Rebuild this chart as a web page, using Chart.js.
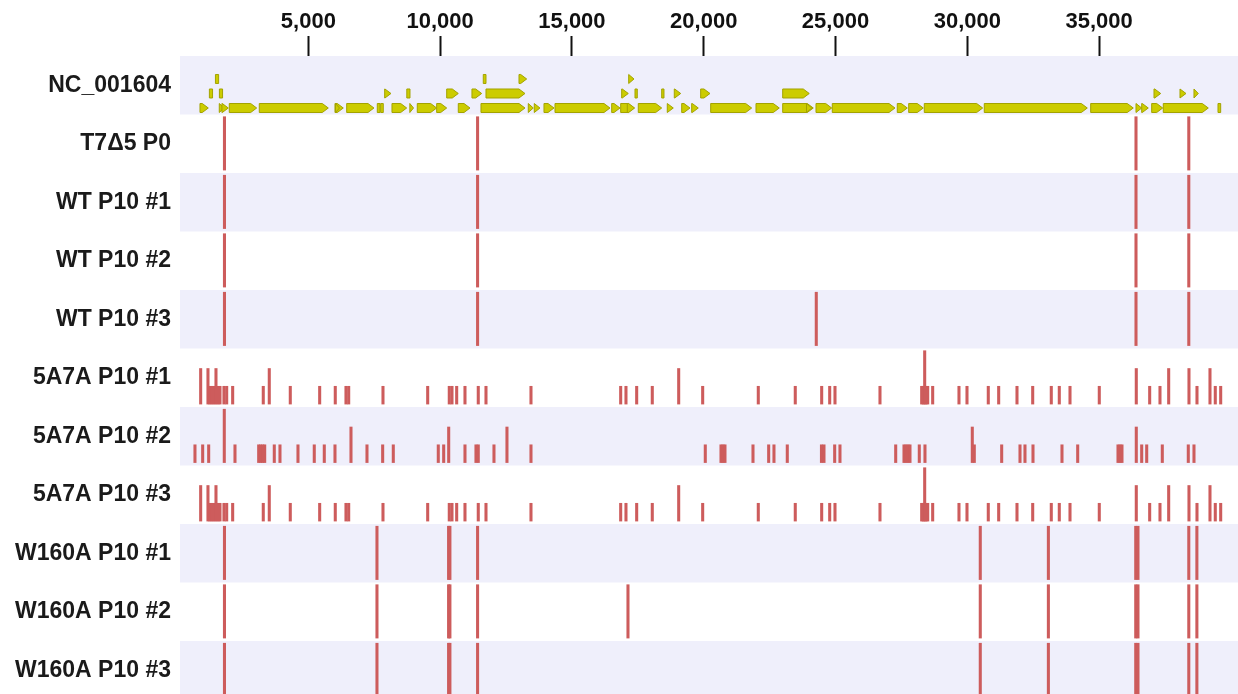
<!DOCTYPE html>
<html><head><meta charset="utf-8">
<script src="https://cdn.jsdelivr.net/npm/chart.js@4.4.1/dist/chart.umd.min.js"></script>
<style>html,body{margin:0;padding:0;background:#fff;overflow:hidden;}canvas{display:block;}</style>
</head><body>
<canvas id="c" width="1238" height="694"></canvas>
<script>
// ---------- data ----------
const rowLabels = ['NC_001604','T7\u03945 P0','WT P10 #1','WT P10 #2','WT P10 #3',
  '5A7A P10 #1','5A7A P10 #2','5A7A P10 #3','W160A P10 #1','W160A P10 #2','W160A P10 #3'];
const xTicks = [5000,10000,15000,20000,25000,30000,35000];
const genomeView = [130, 40270];

// gene annotation lanes: [start, end] in bp
const genesLaneLow = [[888,1203],[1620,1800],[1720,1962],[2000,3039],[3138,5756],[6010,6325],[6030,6180],
  [6454,7489],[7615,7717],[7744,7842],[8172,8730],[8850,8990],[9132,9868],[9868,10248],[10688,11132],
  [11549,13218],[13344,13533],[13571,13787],[13939,14319],[14357,16443],[16508,16823],[16849,17354],
  [17100,17380],[17517,18405],[18617,18845],[19164,19478],[19543,19793],[20264,21819],[21983,22866],
  [22996,24156],[23900,24100],[24259,24855],[24877,27256],[27343,27723],[27776,28330],[28368,30583],
  [30644,34552],[34681,36297],[36400,36616],[36616,36866],[36995,37413],[37435,39143],[39511,39613]];
const genesLaneMid = [[1245,1365],[1625,1745],[7895,8134],[8735,8855],[10248,10688],[11207,11575],
  [11739,13218],[16887,17138],[17392,17479],[18405,18492],[18883,19126],[19884,20237],[22996,24004],
  [37083,37337],[38069,38297],[38600,38763]];
const genesLaneHigh = [[1475,1595],[11636,11739],[12991,13283],[17153,17354]];

// mutations: [position bp, level 1..3]
const mutT7d5P0 = [[1817,3],[11420,3],[36400,3],[38403,3]];
const mutWT1 = [[1817,3],[11420,3],[36400,3],[38403,3]];
const mutWT2 = [[1817,3],[11420,3],[36400,3],[38403,3]];
const mutWT3 = [[1817,3],[11420,3],[24270,3],[36400,3],[38403,3]];
const mut5A7A1 = [[914,2],[1191,2],[1267,1],[1343,1],[1419,1],[1495,2],[1571,1],[1647,1],[1798,1],[1901,1],
  [2128,1],[3289,1],[3517,2],[4314,1],[5429,1],[6021,1],[6427,1],[6530,1],[7831,1],[9527,1],[10346,1],
  [10449,1],[10627,1],[10942,1],[11446,1],[11739,1],[13446,1],[16849,1],[17050,1],[17456,1],[18048,1],
  [19050,2],[19960,1],[22070,1],[23473,1],[24475,1],[24779,1],[24980,1],[26687,1],[28269,1],[28330,1],
  [28383,3],[28432,1],[28497,1],[28686,1],[29684,1],[29988,1],[30796,1],[31190,1],[31885,1],[32481,1],
  [33186,1],[33490,1],[33896,1],[35007,1],[36411,2],[36919,1],[37310,1],[37640,2],[38410,2],[38714,1],
  [39207,2],[39408,1],[39613,1]];
const mut5A7A2 = [[698,1],[990,1],[1218,1],[1810,3],[2216,1],[3115,1],[3191,1],[3267,1],[3343,1],[3707,1],
  [3923,1],[4606,1],[5224,1],[5604,1],[6010,1],[6617,2],[7224,1],[7819,1],[8222,1],[9929,1],[10134,1],
  [10324,2],[10942,1],[11359,1],[11446,1],[12042,1],[12535,2],[13446,1],[20059,1],[20655,1],[20730,1],
  [20806,1],[21869,1],[22464,1],[22665,1],[23170,1],[24467,1],[24562,1],[24968,1],[25169,1],[27283,1],
  [27598,1],[27674,1],[27749,1],[27825,1],[28178,1],[28394,1],[30189,2],[30265,1],[31304,1],[31999,1],
  [32188,1],[32492,1],[33592,1],[34188,1],[35717,1],[35793,1],[35868,1],[36411,2],[36616,1],[36806,1],
  [37398,1],[38384,1],[38600,1]];
const mut5A7A3 = [[914,2],[1191,2],[1267,1],[1343,1],[1419,1],[1495,2],[1571,1],[1647,1],[1798,1],[1901,1],
  [2128,1],[3289,1],[3517,2],[4314,1],[5429,1],[6021,1],[6427,1],[6530,1],[7831,1],[9527,1],[10346,1],
  [10449,1],[10627,1],[10942,1],[11446,1],[11739,1],[13446,1],[16849,1],[17050,1],[17456,1],[18048,1],
  [19050,2],[19960,1],[22070,1],[23473,1],[24475,1],[24779,1],[24980,1],[26687,1],[28269,1],[28330,1],
  [28383,3],[28432,1],[28497,1],[28686,1],[29684,1],[29988,1],[30796,1],[31190,1],[31885,1],[32481,1],
  [33186,1],[33490,1],[33896,1],[35007,1],[36411,2],[36919,1],[37310,1],[37640,2],[38410,2],[38714,1],
  [39207,2],[39408,1],[39613,1]];
const mutW160A1 = [[1817,3],[7603,3],[10320,3],[10370,3],[11420,3],[30492,3],[33076,3],[36390,3],[36475,3],[38403,3],[38710,3]];
const mutW160A2 = [[1817,3],[7603,3],[10320,3],[10370,3],[11420,3],[17126,3],[30492,3],[33076,3],[36390,3],[36475,3],[38403,3],[38710,3]];
const mutW160A3 = [[1817,3],[7603,3],[10320,3],[10370,3],[11420,3],[30492,3],[33076,3],[36390,3],[36475,3],[38403,3],[38710,3]];

// ---------- build ----------
const mutRows = [mutT7d5P0, mutWT1, mutWT2, mutWT3, mut5A7A1, mut5A7A2, mut5A7A3, mutW160A1, mutW160A2, mutW160A3];
const BASE_OFF = 0.45, UNIT = 0.304;
const laneY = [0.389, 0.141, -0.107];
const geneData = [genesLaneLow, genesLaneMid, genesLaneHigh].flatMap((lane, k) =>
  lane.map(([s, e]) => ({ y: laneY[k], x: [s, e] })));

const datasets = [{
  type: 'bar', label: 'genes', indexAxis: 'y', grouped: false, barThickness: 9,
  data: geneData, backgroundColor: '#cccc00', borderColor: '#a3a300', borderWidth: 1
}].concat(mutRows.map((arr, i) => ({
  type: 'bar', label: rowLabels[i + 1], grouped: false, barThickness: 2.4,
  backgroundColor: '#cd5c5c', borderWidth: 0,
  data: arr.map(([p, l]) => ({ x: p, y: [i + 1 + BASE_OFF, i + 1 + BASE_OFF - l * UNIT] }))
})));

const bandsPlugin = {
  id: 'bands',
  beforeDatasetsDraw(chart) {
    const { ctx, chartArea, scales: { y } } = chart;
    ctx.save();
    ctx.beginPath(); ctx.rect(chartArea.left, chartArea.top, chartArea.right - chartArea.left, chartArea.bottom - chartArea.top); ctx.clip();
    ctx.fillStyle = '#efeffb';
    for (let r = 0; r < rowLabels.length; r += 2) {
      const t = y.getPixelForValue(r - 0.5), b = y.getPixelForValue(r + 0.5);
      ctx.fillRect(chartArea.left, t, chartArea.right - chartArea.left, b - t);
    }
    ctx.restore();
  }
};

const arrowPlugin = {
  id: 'arrows',
  beforeDatasetDraw(chart, args) {
    if (args.index !== 0) return;
    const { ctx, chartArea } = chart;
    const ds = chart.data.datasets[0];
    ctx.save();
    ctx.beginPath(); ctx.rect(chartArea.left, chartArea.top, chartArea.right - chartArea.left, chartArea.bottom - chartArea.top); ctx.clip();
    ctx.fillStyle = ds.backgroundColor; ctx.strokeStyle = ds.borderColor; ctx.lineWidth = 1;
    for (const el of args.meta.data) {
      const { x, base, y, height } = el.getProps(['x', 'base', 'y', 'height'], true);
      const x0 = Math.min(x, base), x1 = Math.max(x, base), w = x1 - x0, h2 = height / 2;
      ctx.beginPath();
      if (w < 3.4) {
        ctx.rect(x0, y - h2, w, height);
      } else {
        const head = Math.min(6, w);
        ctx.moveTo(x0, y - h2); ctx.lineTo(x1 - head, y - h2); ctx.lineTo(x1, y);
        ctx.lineTo(x1 - head, y + h2); ctx.lineTo(x0, y + h2); ctx.closePath();
      }
      ctx.fill(); ctx.stroke();
    }
    ctx.restore();
    return false;
  }
};

const FONT = "'Liberation Sans', Arial, sans-serif";
new Chart(document.getElementById('c'), {
  type: 'bar',
  data: { datasets },
  plugins: [bandsPlugin, arrowPlugin],
  options: {
    responsive: false, animation: false, devicePixelRatio: 1,
    layout: { padding: 0, autoPadding: false },
    plugins: { legend: { display: false }, tooltip: { enabled: false } },
    scales: {
      x: {
        type: 'linear', position: 'top', min: genomeView[0], max: genomeView[1], offset: false,
        afterBuildTicks: s => { s.ticks = xTicks.map(v => ({ value: v })); },
        afterFit: s => { s.height = 56; s.paddingLeft = 0; s.paddingRight = 0; },
        grid: { display: true, offset: false, drawOnChartArea: false, drawTicks: true, tickLength: 20, tickWidth: 2, tickColor: '#111' },
        border: { display: false },
        ticks: { padding: 1, autoSkip: false, maxRotation: 0, color: '#111',
          font: { family: FONT, size: 22, weight: 'bold' },
          callback: v => Number(v).toLocaleString('en-US') }
      },
      y: {
        type: 'linear', reverse: true, min: -0.5, max: 10.406, offset: false, stacked: false,
        afterBuildTicks: s => { s.ticks = rowLabels.map((_, i) => ({ value: i })); },
        afterFit: s => { s.width = 180; s.paddingTop = 0; s.paddingBottom = 0; },
        grid: { display: false, drawTicks: false },
        border: { display: false },
        ticks: { padding: 9, autoSkip: false, color: '#1a1a1a',
          font: { family: FONT, size: 23, weight: 'bold' },
          callback: v => rowLabels[v] }
      }
    }
  }
});
</script>
</body></html>
